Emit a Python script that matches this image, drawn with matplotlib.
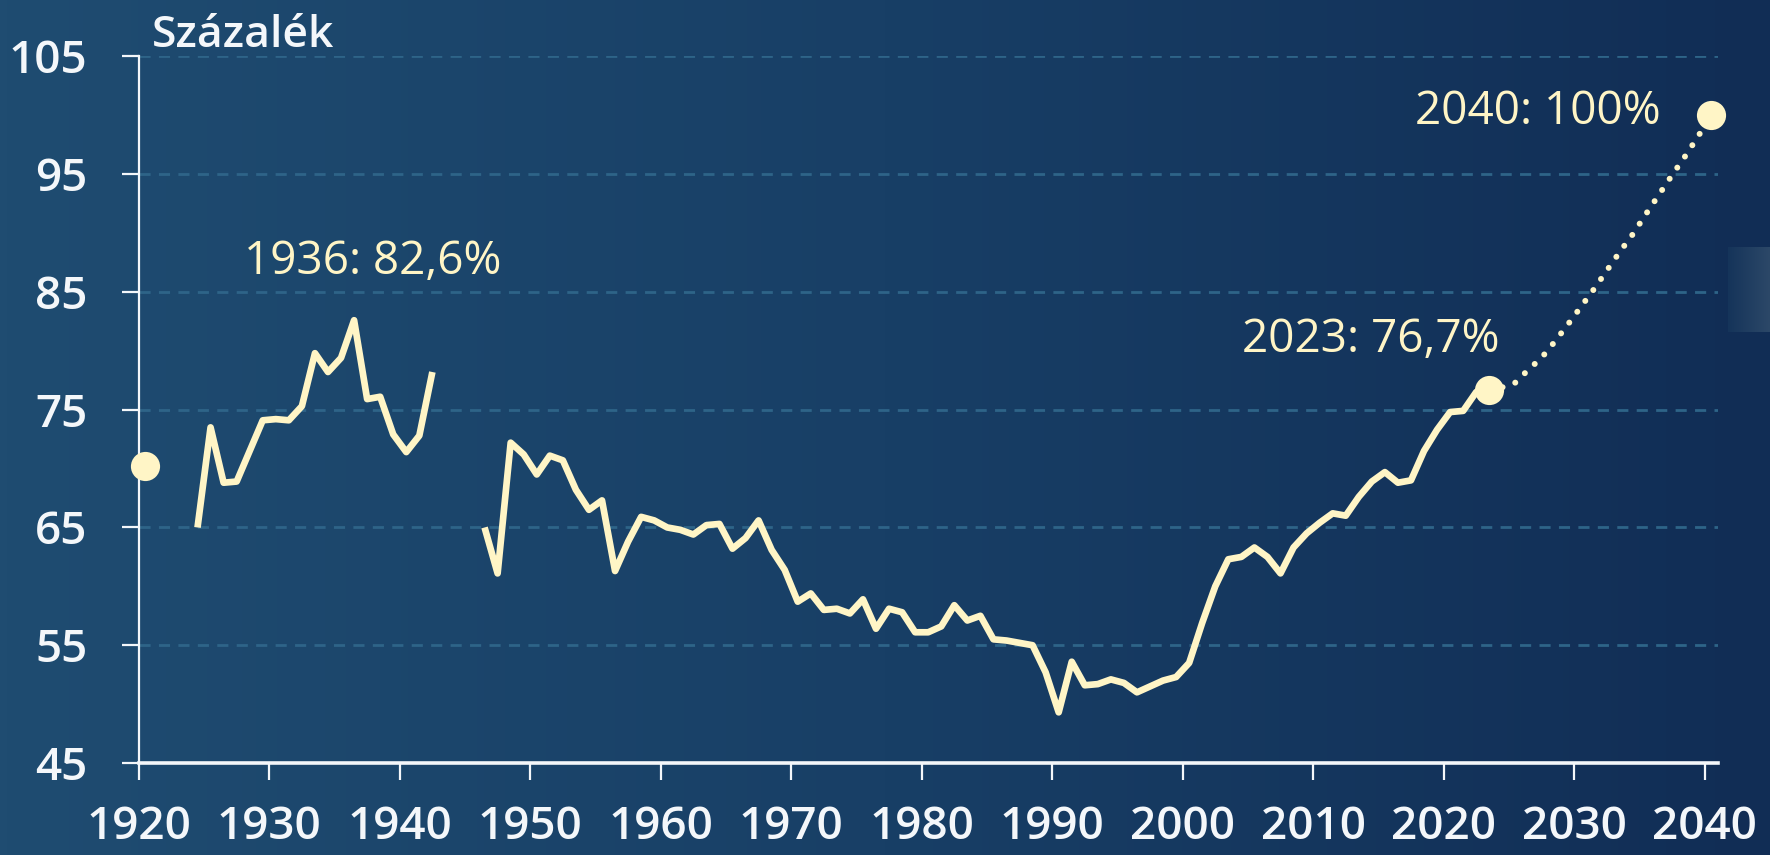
import numpy as np
import matplotlib
matplotlib.use("Agg")
import matplotlib.pyplot as plt
from matplotlib.colors import LinearSegmentedColormap

# ---------------- data ----------------
years_a = [1924, 1925, 1926, 1927, 1928, 1929, 1930, 1931, 1932, 1933, 1934,
           1935, 1936, 1937, 1938, 1939, 1940, 1941, 1942]
vals_a = [65.0, 73.5, 68.8, 68.9, 71.5, 74.1, 74.2, 74.1, 75.3, 79.8, 78.2,
          79.4, 82.6, 75.9, 76.1, 72.9, 71.4, 72.8, 78.2]

years_b = list(range(1946, 2024))
vals_b = [65.0, 61.1, 72.2, 71.2, 69.5, 71.1, 70.7, 68.2, 66.5, 67.3,
          61.3, 63.8, 65.9, 65.6, 65.0, 64.8, 64.4, 65.2, 65.3, 63.2,
          64.1, 65.6, 63.1, 61.4, 58.7, 59.4, 58.0, 58.1, 57.7, 58.9,
          56.4, 58.1, 57.8, 56.1, 56.1, 56.6, 58.4, 57.1, 57.5, 55.5,
          55.4, 55.2, 55.0, 52.7, 49.3, 53.6, 51.6, 51.7, 52.1, 51.8,
          51.0, 51.5, 52.0, 52.3, 53.5, 56.9, 60.0, 62.3, 62.5, 63.3,
          62.5, 61.1, 63.3, 64.5, 65.4, 66.2, 66.0, 67.6, 68.9, 69.7,
          68.8, 69.0, 71.5, 73.3, 74.8, 74.9, 76.5, 76.7]

years_proj = list(range(2023, 2041))
vals_proj = [76.7, 76.9, 77.3, 78.4, 79.4, 80.75, 82.2, 83.7, 85.2, 86.8,
             88.4, 89.9, 91.6, 93.25, 94.9, 96.5, 98.2, 100.0]

dot_years = [1920, 2023, 2040]
dot_vals = [70.2, 76.7, 100.0]

labels = ["1936: 82,6%", "2023: 76,7%", "2040: 100%"]
label_pos = [(1937.95, 87.5), (2014.45, 80.9), (2027.25, 100.3)]

x_ticks = list(range(1920, 2041, 10))
y_ticks = [45, 55, 65, 75, 85, 95, 105]
y_title = "Százalék"

# ---------------- style ----------------
CREAM = "#FFF5C6"
GRID = "#2E6488"
WHITE = "#F4F7FA"
OFF = 0.5  # values plotted at mid-year

plt.rcParams['font.family'] = ['Open Sans', 'DejaVu Sans']

fig = plt.figure(figsize=(17.7, 8.55), dpi=100)

# background gradient
bg = fig.add_axes([0, 0, 1, 1], zorder=-10)
cmap = LinearSegmentedColormap.from_list("bg", ["#1F4C71", "#183F66", "#112D55"])
grad = np.linspace(0, 1, 512).reshape(1, -1)
bg.imshow(grad, aspect="auto", cmap=cmap, extent=[0, 1, 0, 1])
bg.set_axis_off()

# faint light patch on the right edge
patch = fig.add_axes([1728 / 1770, 1 - 332 / 855, 42 / 1770, 85 / 855], zorder=-9)
pcmap = LinearSegmentedColormap.from_list("p", ["#15345A", "#2C4868"])
patch.imshow(grad, aspect="auto", cmap=pcmap, extent=[0, 1, 0, 1])
patch.set_axis_off()

ax = fig.add_axes([138.8 / 1770, 92 / 855, (1718 - 138.8) / 1770, (798.6 - 92) / 855])
ax.set_facecolor("none")
ax.set_xlim(1920, 2041.03)
ax.set_ylim(45, 105)

# grid
for yv in y_ticks[1:]:
    ax.axhline(yv, color=GRID, lw=2, linestyle=(0, (4, 3)), zorder=1)

# lines
LW = 4.8
ax.plot(np.array(years_a) + OFF, vals_a, color=CREAM, lw=LW,
        solid_joinstyle="round", solid_capstyle="butt", zorder=3)
ax.plot(np.array(years_b) + OFF, vals_b, color=CREAM, lw=LW,
        solid_joinstyle="round", solid_capstyle="butt", zorder=3)
ax.plot(np.array(years_proj) + OFF, vals_proj, color=CREAM, lw=4.3,
        linestyle=(0, (0.01, 2.25)), dash_capstyle="round", zorder=3)
ax.plot(np.array(dot_years) + OFF, dot_vals, linestyle="none", marker="o",
        markersize=21, color=CREAM, markeredgewidth=0, zorder=5, clip_on=False)

for txt, (xv, yv) in zip(labels, label_pos):
    ax.text(xv, yv, txt, color=CREAM, fontsize=33, ha="center", va="center",
            zorder=6)

# spines and ticks
for s in ["top", "right"]:
    ax.spines[s].set_visible(False)
ax.spines["left"].set_color(WHITE)
ax.spines["left"].set_linewidth(1.6)
ax.spines["bottom"].set_color(WHITE)
ax.spines["bottom"].set_linewidth(2.6)

ax.set_xticks(x_ticks)
ax.set_xticklabels([str(t) for t in x_ticks])
ax.set_yticks(y_ticks)
ax.set_yticklabels([str(t) for t in y_ticks])
ax.tick_params(axis="x", direction="out", length=12, width=1.6, color=WHITE,
               labelsize=33, labelcolor=WHITE, pad=18)
ax.tick_params(axis="y", direction="out", length=12, width=1.6, color=WHITE,
               labelsize=33, labelcolor=WHITE, pad=25)
for lab in ax.get_xticklabels() + ax.get_yticklabels():
    lab.set_fontweight("semibold")

fig.text(152 / 1770, 1 - 47 / 855, y_title, color=WHITE, fontsize=32,
         fontweight="semibold", ha="left", va="baseline")

fig.savefig("out.png", dpi=100)
